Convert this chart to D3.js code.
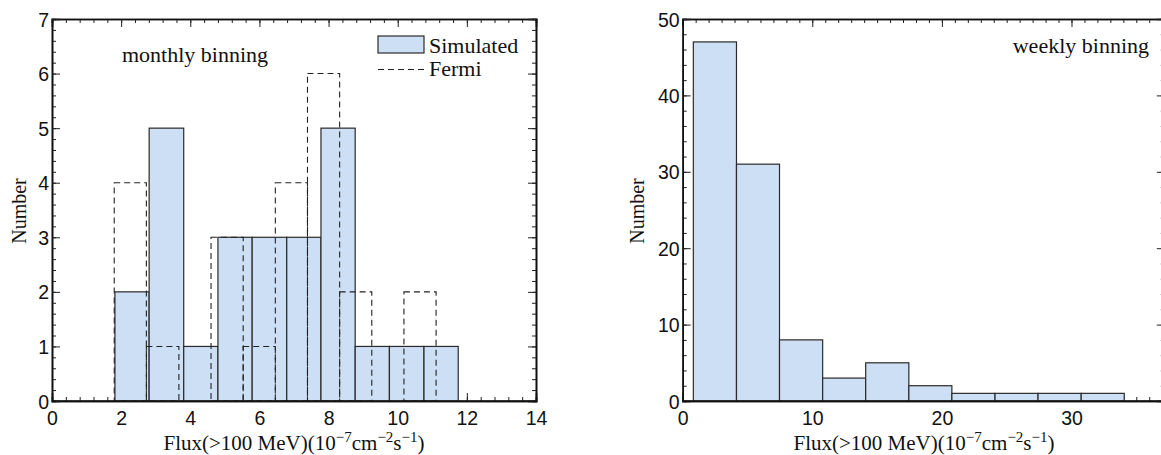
<!DOCTYPE html>
<html>
<head>
<meta charset="utf-8">
<script src="https://cdn.jsdelivr.net/npm/d3@7"></script>
<style>
  html, body { margin: 0; padding: 0; background: #fff; }
  svg { display: block; overflow: hidden; }
  .tick text { font-family: "Liberation Sans", Arial, sans-serif; font-size: 19.5px; fill: #111; }
  .serif { font-family: "Liberation Serif", "Times New Roman", serif; fill: #111; }
</style>
</head>
<body>
<svg id="chart" width="1161" height="455"></svg>
<script>
// ---------- data ----------
// Monthly binning: simulated histogram (bin edges + counts)
const simMonthlyEdges  = [1.82, 2.81, 3.81, 4.80, 5.79, 6.79, 7.78, 8.77, 9.76, 10.76, 11.75];
const simMonthlyCounts = [2, 5, 1, 3, 3, 3, 5, 1, 1, 1];
// Monthly binning: Fermi histogram
const fermiMonthlyEdges  = [1.80, 2.73, 3.67, 4.60, 5.53, 6.46, 7.39, 8.32, 9.25, 10.18, 11.11];
const fermiMonthlyCounts = [4, 1, 0, 3, 1, 4, 6, 2, 0, 2];
// Weekly binning: simulated histogram
const simWeeklyEdges  = [0.82, 4.15, 7.47, 10.80, 14.12, 17.45, 20.77, 24.10, 27.42, 30.75, 34.07];
const simWeeklyCounts = [47, 31, 8, 3, 5, 2, 1, 1, 1, 1];
// Tick labels
const leftXTicks  = [0, 2, 4, 6, 8, 10, 12, 14];
const leftYTicks  = [0, 1, 2, 3, 4, 5, 6, 7];
const rightXTicks = [0, 10, 20, 30];
const rightYTicks = [0, 10, 20, 30, 40, 50];
const legendLabels = ["Simulated", "Fermi"];
const panelTexts = ["monthly binning", "weekly binning"];

// ---------- helpers ----------
const svg = d3.select("#chart");
const FILL = "#cddff5", STROKE = "#2a2a2a";

function toBins(edges, counts) {
  return counts.map((c, i) => ({ x0: edges[i], x1: edges[i + 1], n: c }));
}
function range(a, b, step) {
  const out = []; const n = Math.round((b - a) / step);
  for (let i = 0; i <= n; i++) out.push(+(a + i * step).toFixed(6));
  return out;
}

function frame(g, x, y, xMaj, yMaj, xMinorStep, yMinorStep) {
  const x1 = x.domain()[1], y1 = y.domain()[1];
  const xMinor = range(0, Math.floor(x1 / xMinorStep) * xMinorStep, xMinorStep);
  const yMinor = range(0, y1, yMinorStep);
  const H = y.range()[0], T = y.range()[1], L = x.range()[0], W = x.range()[1];

  // minor ticks
  g.append("g").attr("transform", `translate(0,${H})`).call(d3.axisBottom(x).tickValues(xMinor).tickSize(-4).tickFormat(""));
  g.append("g").attr("transform", `translate(0,${T})`).call(d3.axisTop(x).tickValues(xMinor).tickSize(-4).tickFormat(""));
  g.append("g").attr("transform", `translate(${L},0)`).call(d3.axisLeft(y).tickValues(yMinor).tickSize(-4).tickFormat(""));
  g.append("g").attr("transform", `translate(${W},0)`).call(d3.axisRight(y).tickValues(yMinor).tickSize(-4).tickFormat(""));
  // major ticks
  g.append("g").attr("class", "xaxis").attr("transform", `translate(0,${H})`)
    .call(d3.axisBottom(x).tickValues(xMaj).tickSize(-8).tickPadding(10).tickFormat(d3.format("d")));
  g.append("g").attr("transform", `translate(0,${T})`).call(d3.axisTop(x).tickValues(xMaj).tickSize(-8).tickFormat(""));
  g.append("g").attr("class", "yaxis").attr("transform", `translate(${L},0)`)
    .call(d3.axisLeft(y).tickValues(yMaj).tickSize(-8).tickPadding(3).tickFormat(d3.format("d")));
  g.append("g").attr("transform", `translate(${W},0)`).call(d3.axisRight(y).tickValues(yMaj).tickSize(-8).tickFormat(""));
  g.selectAll(".domain").attr("stroke", "#111").attr("stroke-width", 1.6);
  g.selectAll(".tick line").attr("stroke", "#222").attr("stroke-width", 1);
  g.selectAll(".yaxis .tick text").attr("dy", "0.36em");
}

function xTitle(g, cx, y) {
  const t = g.append("text").attr("class", "serif").attr("x", cx).attr("y", y)
    .attr("text-anchor", "middle").style("font-size", "21px");
  t.append("tspan").text("Flux(>100 MeV)(10");
  t.append("tspan").attr("dy", -8).style("font-size", "15px").text("−7");
  t.append("tspan").attr("dy", 8).text("cm");
  t.append("tspan").attr("dy", -8).style("font-size", "15px").text("−2");
  t.append("tspan").attr("dy", 8).text("s");
  t.append("tspan").attr("dy", -8).style("font-size", "15px").text("−1");
  t.append("tspan").attr("dy", 8).text(")");
}
function yTitle(g, x, cy) {
  g.append("text").attr("class", "serif").attr("transform", `translate(${x},${cy}) rotate(-90)`)
    .attr("text-anchor", "middle").style("font-size", "20px").text("Number");
}

// ---------- left panel (monthly) ----------
{
  const g = svg.append("g");
  const x = d3.scaleLinear().domain([0, 14]).range([52, 536]);
  const y = d3.scaleLinear().domain([0, 7]).range([401, 19]);
  frame(g, x, y, leftXTicks, leftYTicks, 0.4, 0.2);

  g.append("g").selectAll("rect").data(toBins(simMonthlyEdges, simMonthlyCounts).filter(d => d.n > 0))
    .join("rect")
    .attr("x", d => x(d.x0)).attr("width", d => x(d.x1) - x(d.x0))
    .attr("y", d => y(d.n)).attr("height", d => y(0) - y(d.n))
    .attr("fill", FILL).attr("stroke", STROKE).attr("stroke-width", 1.2);

  g.append("g").selectAll("rect").data(toBins(fermiMonthlyEdges, fermiMonthlyCounts).filter(d => d.n > 0))
    .join("rect")
    .attr("x", d => x(d.x0)).attr("width", d => x(d.x1) - x(d.x0))
    .attr("y", d => y(d.n)).attr("height", d => y(0) - y(d.n))
    .attr("fill", "none").attr("stroke", "#222").attr("stroke-width", 1.1)
    .attr("stroke-dasharray", "6,4");

  g.append("line").attr("x1", x(0)).attr("x2", x(14)).attr("y1", y(0)).attr("y2", y(0))
    .attr("stroke", "#111").attr("stroke-width", 1.6);

  g.append("text").attr("class", "serif").attr("x", 122).attr("y", 62)
    .style("font-size", "22px").text(panelTexts[0]);

  // legend
  g.append("rect").attr("x", 378).attr("y", 36).attr("width", 46).attr("height", 17)
    .attr("fill", FILL).attr("stroke", STROKE).attr("stroke-width", 1.2);
  g.append("text").attr("class", "serif").attr("x", 429).attr("y", 53).style("font-size", "22px").text(legendLabels[0]);
  g.append("line").attr("x1", 378).attr("x2", 424).attr("y1", 69.5).attr("y2", 69.5)
    .attr("stroke", "#222").attr("stroke-width", 1.1).attr("stroke-dasharray", "6,4");
  g.append("text").attr("class", "serif").attr("x", 429).attr("y", 76).style("font-size", "22px").text(legendLabels[1]);

  xTitle(g, 294, 450);
  yTitle(g, 26, 211);
}

// ---------- right panel (weekly) ----------
{
  const g = svg.append("g");
  const x = d3.scaleLinear().domain([0, 37.2]).range([682.7, 1164.8]);
  const y = d3.scaleLinear().domain([0, 50]).range([401, 19]);
  frame(g, x, y, rightXTicks, rightYTicks, 1, 2);

  g.append("g").selectAll("rect").data(toBins(simWeeklyEdges, simWeeklyCounts).filter(d => d.n > 0))
    .join("rect")
    .attr("x", d => x(d.x0)).attr("width", d => x(d.x1) - x(d.x0))
    .attr("y", d => y(d.n)).attr("height", d => y(0) - y(d.n))
    .attr("fill", FILL).attr("stroke", STROKE).attr("stroke-width", 1.2);

  g.append("line").attr("x1", x(0)).attr("x2", x(37.2)).attr("y1", y(0)).attr("y2", y(0))
    .attr("stroke", "#111").attr("stroke-width", 1.6);

  g.append("text").attr("class", "serif").attr("x", 1149).attr("y", 53).attr("text-anchor", "end")
    .style("font-size", "22px").text(panelTexts[1]);

  xTitle(g, 924, 450);
  yTitle(g, 644, 211);
}
</script>
</body>
</html>
